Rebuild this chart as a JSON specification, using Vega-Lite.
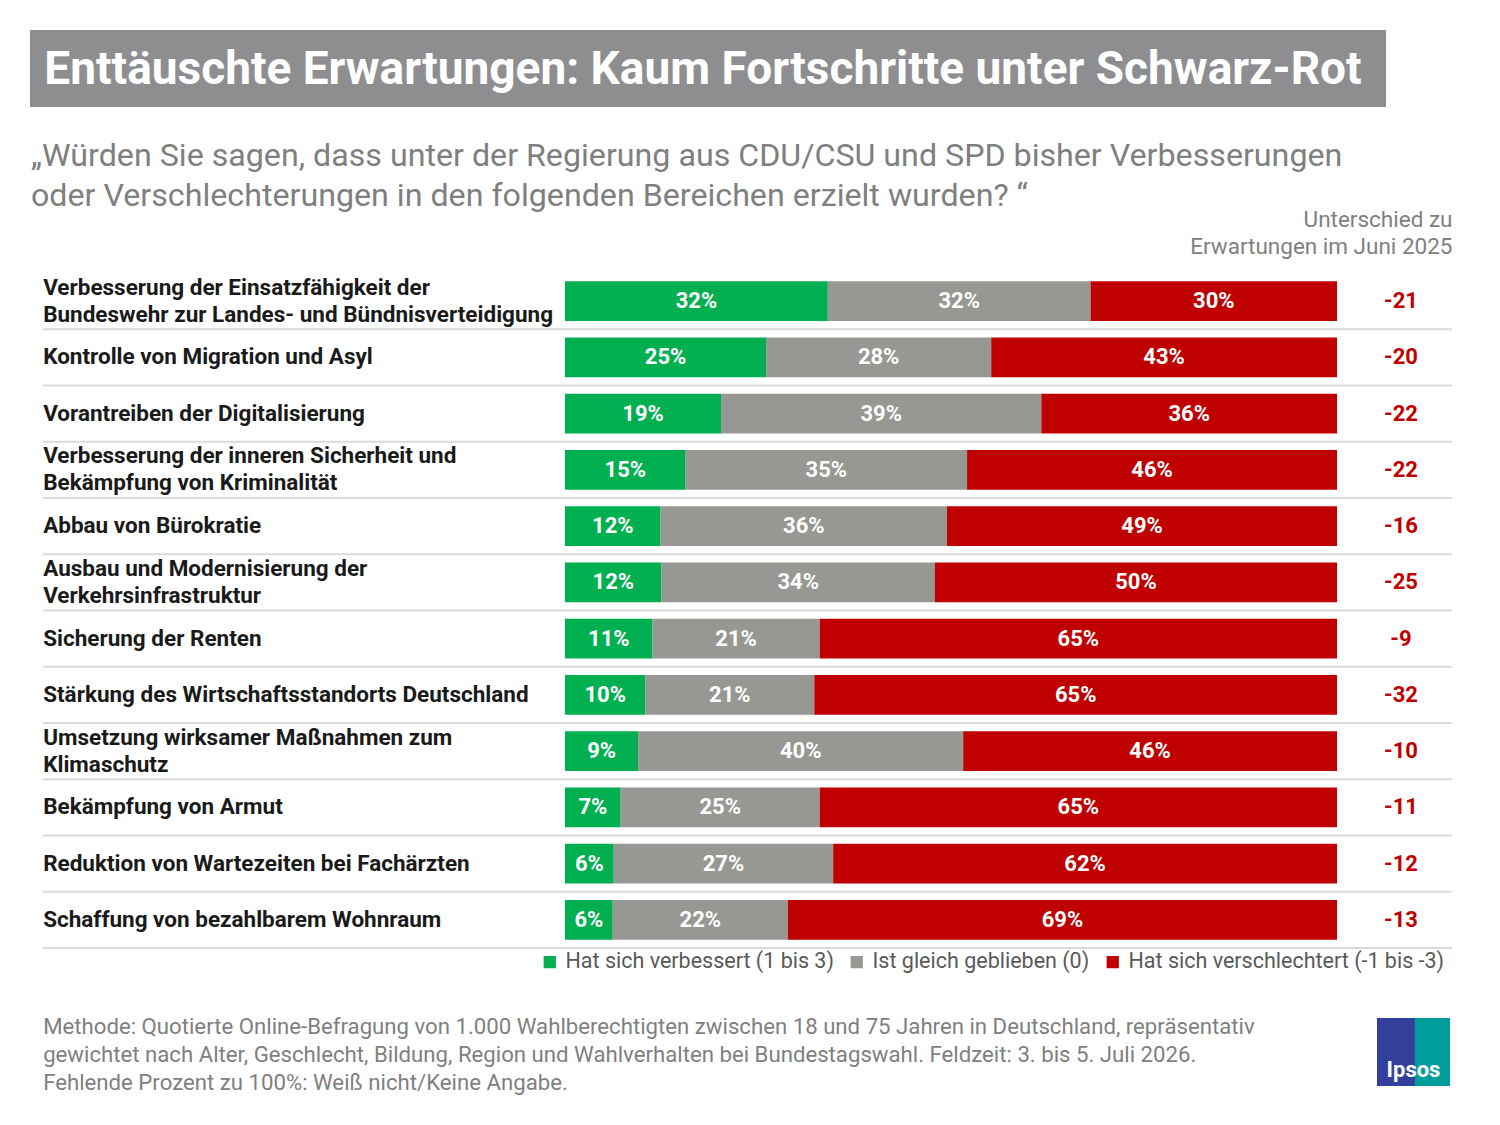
{
  "$schema": "https://vega.github.io/schema/vega-lite/v6.json",
  "background": "white",
  "padding": {"left": 30, "top": 30, "right": 0, "bottom": 0},
  "bounds": "full",
  "spacing": 32,
  "config": {
    "view": {"stroke": null},
    "font": "Roboto",
    "legend": {"layout": {"bottom": {"anchor": "end"}}}
  },
  "resolve": {"scale": {"color": "independent"}, "legend": {"color": "independent"}},
  "datasets": {
    "rows": [
      {"cat": "Verbesserung der Einsatzfähigkeit der\nBundeswehr zur Landes- und Bündnisverteidigung", "diff": -21},
      {"cat": "Kontrolle von Migration und Asyl", "diff": -20},
      {"cat": "Vorantreiben der Digitalisierung", "diff": -22},
      {"cat": "Verbesserung der inneren Sicherheit und\nBekämpfung von Kriminalität", "diff": -22},
      {"cat": "Abbau von Bürokratie", "diff": -16},
      {"cat": "Ausbau und Modernisierung der\nVerkehrsinfrastruktur", "diff": -25},
      {"cat": "Sicherung der Renten", "diff": -9},
      {"cat": "Stärkung des Wirtschaftsstandorts Deutschland", "diff": -32},
      {"cat": "Umsetzung wirksamer Maßnahmen zum\nKlimaschutz", "diff": -10},
      {"cat": "Bekämpfung von Armut", "diff": -11},
      {"cat": "Reduktion von Wartezeiten bei Fachärzten", "diff": -12},
      {"cat": "Schaffung von bezahlbarem Wohnraum", "diff": -13}
    ],
    "parts": [
      {"cat": "Verbesserung der Einsatzfähigkeit der\nBundeswehr zur Landes- und Bündnisverteidigung", "answer": "Hat sich verbessert (1 bis 3)", "k": 1, "share": 0.32},
      {"cat": "Verbesserung der Einsatzfähigkeit der\nBundeswehr zur Landes- und Bündnisverteidigung", "answer": "Ist gleich geblieben (0)", "k": 2, "share": 0.32},
      {"cat": "Verbesserung der Einsatzfähigkeit der\nBundeswehr zur Landes- und Bündnisverteidigung", "answer": "Hat sich verschlechtert (-1 bis -3)", "k": 3, "share": 0.30},
      {"cat": "Kontrolle von Migration und Asyl", "answer": "Hat sich verbessert (1 bis 3)", "k": 1, "share": 0.25},
      {"cat": "Kontrolle von Migration und Asyl", "answer": "Ist gleich geblieben (0)", "k": 2, "share": 0.28},
      {"cat": "Kontrolle von Migration und Asyl", "answer": "Hat sich verschlechtert (-1 bis -3)", "k": 3, "share": 0.43},
      {"cat": "Vorantreiben der Digitalisierung", "answer": "Hat sich verbessert (1 bis 3)", "k": 1, "share": 0.19},
      {"cat": "Vorantreiben der Digitalisierung", "answer": "Ist gleich geblieben (0)", "k": 2, "share": 0.39},
      {"cat": "Vorantreiben der Digitalisierung", "answer": "Hat sich verschlechtert (-1 bis -3)", "k": 3, "share": 0.36},
      {"cat": "Verbesserung der inneren Sicherheit und\nBekämpfung von Kriminalität", "answer": "Hat sich verbessert (1 bis 3)", "k": 1, "share": 0.15},
      {"cat": "Verbesserung der inneren Sicherheit und\nBekämpfung von Kriminalität", "answer": "Ist gleich geblieben (0)", "k": 2, "share": 0.35},
      {"cat": "Verbesserung der inneren Sicherheit und\nBekämpfung von Kriminalität", "answer": "Hat sich verschlechtert (-1 bis -3)", "k": 3, "share": 0.46},
      {"cat": "Abbau von Bürokratie", "answer": "Hat sich verbessert (1 bis 3)", "k": 1, "share": 0.12},
      {"cat": "Abbau von Bürokratie", "answer": "Ist gleich geblieben (0)", "k": 2, "share": 0.36},
      {"cat": "Abbau von Bürokratie", "answer": "Hat sich verschlechtert (-1 bis -3)", "k": 3, "share": 0.49},
      {"cat": "Ausbau und Modernisierung der\nVerkehrsinfrastruktur", "answer": "Hat sich verbessert (1 bis 3)", "k": 1, "share": 0.12},
      {"cat": "Ausbau und Modernisierung der\nVerkehrsinfrastruktur", "answer": "Ist gleich geblieben (0)", "k": 2, "share": 0.34},
      {"cat": "Ausbau und Modernisierung der\nVerkehrsinfrastruktur", "answer": "Hat sich verschlechtert (-1 bis -3)", "k": 3, "share": 0.50},
      {"cat": "Sicherung der Renten", "answer": "Hat sich verbessert (1 bis 3)", "k": 1, "share": 0.11},
      {"cat": "Sicherung der Renten", "answer": "Ist gleich geblieben (0)", "k": 2, "share": 0.21},
      {"cat": "Sicherung der Renten", "answer": "Hat sich verschlechtert (-1 bis -3)", "k": 3, "share": 0.65},
      {"cat": "Stärkung des Wirtschaftsstandorts Deutschland", "answer": "Hat sich verbessert (1 bis 3)", "k": 1, "share": 0.10},
      {"cat": "Stärkung des Wirtschaftsstandorts Deutschland", "answer": "Ist gleich geblieben (0)", "k": 2, "share": 0.21},
      {"cat": "Stärkung des Wirtschaftsstandorts Deutschland", "answer": "Hat sich verschlechtert (-1 bis -3)", "k": 3, "share": 0.65},
      {"cat": "Umsetzung wirksamer Maßnahmen zum\nKlimaschutz", "answer": "Hat sich verbessert (1 bis 3)", "k": 1, "share": 0.09},
      {"cat": "Umsetzung wirksamer Maßnahmen zum\nKlimaschutz", "answer": "Ist gleich geblieben (0)", "k": 2, "share": 0.40},
      {"cat": "Umsetzung wirksamer Maßnahmen zum\nKlimaschutz", "answer": "Hat sich verschlechtert (-1 bis -3)", "k": 3, "share": 0.46},
      {"cat": "Bekämpfung von Armut", "answer": "Hat sich verbessert (1 bis 3)", "k": 1, "share": 0.07},
      {"cat": "Bekämpfung von Armut", "answer": "Ist gleich geblieben (0)", "k": 2, "share": 0.25},
      {"cat": "Bekämpfung von Armut", "answer": "Hat sich verschlechtert (-1 bis -3)", "k": 3, "share": 0.65},
      {"cat": "Reduktion von Wartezeiten bei Fachärzten", "answer": "Hat sich verbessert (1 bis 3)", "k": 1, "share": 0.06},
      {"cat": "Reduktion von Wartezeiten bei Fachärzten", "answer": "Ist gleich geblieben (0)", "k": 2, "share": 0.27},
      {"cat": "Reduktion von Wartezeiten bei Fachärzten", "answer": "Hat sich verschlechtert (-1 bis -3)", "k": 3, "share": 0.62},
      {"cat": "Schaffung von bezahlbarem Wohnraum", "answer": "Hat sich verbessert (1 bis 3)", "k": 1, "share": 0.06},
      {"cat": "Schaffung von bezahlbarem Wohnraum", "answer": "Ist gleich geblieben (0)", "k": 2, "share": 0.22},
      {"cat": "Schaffung von bezahlbarem Wohnraum", "answer": "Hat sich verschlechtert (-1 bis -3)", "k": 3, "share": 0.69}
    ]
  },
  "vconcat": [
    {
      "width": 1356,
      "height": 77,
      "view": {"fill": "#8e8e90", "stroke": null},
      "data": {"values": [{"t": "Enttäuschte Erwartungen: Kaum Fortschritte unter Schwarz-Rot"}]},
      "mark": {"type": "text", "align": "center", "baseline": "middle", "dx": -5, "dy": 1, "font": "Roboto", "fontSize": 46, "fontWeight": "bold", "color": "white"},
      "encoding": {"text": {"field": "t"}}
    },
    {
      "width": 1422,
      "height": 675,
      "title": {
        "text": ["„Würden Sie sagen, dass unter der Regierung aus CDU/CSU und SPD bisher Verbesserungen", "oder Verschlechterungen in den folgenden Bereichen erzielt wurden? “"],
        "anchor": "start",
        "frame": "group",
        "dx": 1,
        "offset": -5,
        "font": "Roboto",
        "fontSize": 32.2,
        "fontWeight": "normal",
        "lineHeight": 40,
        "color": "#7f7f7f"
      },
      "layer": [
        {
          "data": {"name": "rows"},
          "mark": {"type": "rule", "color": "#dadada", "strokeWidth": 2},
          "encoding": {
            "y": {"field": "cat", "type": "nominal", "bandPosition": 1, "axis": null,
                  "sort": ["Verbesserung der Einsatzfähigkeit der\nBundeswehr zur Landes- und Bündnisverteidigung", "Kontrolle von Migration und Asyl", "Vorantreiben der Digitalisierung", "Verbesserung der inneren Sicherheit und\nBekämpfung von Kriminalität", "Abbau von Bürokratie", "Ausbau und Modernisierung der\nVerkehrsinfrastruktur", "Sicherung der Renten", "Stärkung des Wirtschaftsstandorts Deutschland", "Umsetzung wirksamer Maßnahmen zum\nKlimaschutz", "Bekämpfung von Armut", "Reduktion von Wartezeiten bei Fachärzten", "Schaffung von bezahlbarem Wohnraum"],
                  "scale": {"paddingInner": 0, "paddingOuter": 0}},
            "x": {"datum": -0.676},
            "x2": {"datum": 1.14896}
          }
        },
        {
          "data": {"name": "parts"},
          "mark": {"type": "bar", "height": {"band": 0.711}},
          "encoding": {
            "y": {"field": "cat", "type": "nominal", "axis": null,
                  "sort": ["Verbesserung der Einsatzfähigkeit der\nBundeswehr zur Landes- und Bündnisverteidigung", "Kontrolle von Migration und Asyl", "Vorantreiben der Digitalisierung", "Verbesserung der inneren Sicherheit und\nBekämpfung von Kriminalität", "Abbau von Bürokratie", "Ausbau und Modernisierung der\nVerkehrsinfrastruktur", "Sicherung der Renten", "Stärkung des Wirtschaftsstandorts Deutschland", "Umsetzung wirksamer Maßnahmen zum\nKlimaschutz", "Bekämpfung von Armut", "Reduktion von Wartezeiten bei Fachärzten", "Schaffung von bezahlbarem Wohnraum"]},
            "x": {
              "field": "share", "type": "quantitative", "stack": "normalize",
              "scale": {"domain": [-0.69301, 1.14896], "nice": false, "zero": false},
              "axis": {
                "orient": "top", "values": [1.14896], "title": null,
                "labelExpr": "['Unterschied zu', 'Erwartungen im Juni 2025']",
                "labelAlign": "right", "labelBaseline": "middle", "labelFlush": false, "labelLimit": 600,
                "labelPadding": 54, "labelFont": "Roboto", "labelFontSize": 22.5, "labelLineHeight": 27,
                "labelColor": "#7f7f7f", "ticks": false, "domain": false, "grid": false
              }
            },
            "order": {"field": "k"},
            "color": {
              "field": "answer", "type": "nominal",
              "scale": {
                "domain": ["Hat sich verbessert (1 bis 3)", "Ist gleich geblieben (0)", "Hat sich verschlechtert (-1 bis -3)"],
                "range": ["#00b050", "#979793", "#c00000"]
              },
              "legend": {
                "orient": "bottom", "direction": "horizontal", "title": null, "offset": -4, "padding": 7,
                "symbolType": "square", "symbolSize": 150, "symbolStrokeWidth": 0,
                "labelFont": "Roboto", "labelFontSize": 21.5, "labelColor": "#595959", "labelLimit": 600,
                "labelOffset": 5, "columnPadding": 12
              }
            }
          }
        },
        {
          "data": {"name": "parts"},
          "mark": {"type": "text", "align": "center", "baseline": "middle", "font": "Roboto", "fontSize": 22, "fontWeight": "bold", "color": "white"},
          "encoding": {
            "y": {"field": "cat", "type": "nominal", "axis": null,
                  "sort": ["Verbesserung der Einsatzfähigkeit der\nBundeswehr zur Landes- und Bündnisverteidigung", "Kontrolle von Migration und Asyl", "Vorantreiben der Digitalisierung", "Verbesserung der inneren Sicherheit und\nBekämpfung von Kriminalität", "Abbau von Bürokratie", "Ausbau und Modernisierung der\nVerkehrsinfrastruktur", "Sicherung der Renten", "Stärkung des Wirtschaftsstandorts Deutschland", "Umsetzung wirksamer Maßnahmen zum\nKlimaschutz", "Bekämpfung von Armut", "Reduktion von Wartezeiten bei Fachärzten", "Schaffung von bezahlbarem Wohnraum"]},
            "x": {"field": "share", "type": "quantitative", "stack": "normalize", "bandPosition": 0.5},
            "detail": {"field": "answer"},
            "order": {"field": "k"},
            "text": {"field": "share", "type": "quantitative", "format": ".0%"}
          }
        },
        {
          "data": {"name": "rows"},
          "transform": [{"filter": "indexof(datum.cat, '\\n') < 0"}],
          "mark": {"type": "text", "align": "left", "baseline": "middle", "font": "Roboto", "fontSize": 22.5, "fontWeight": "bold", "color": "#1a1a1a"},
          "encoding": {
            "y": {"field": "cat", "type": "nominal", "axis": null,
                  "sort": ["Verbesserung der Einsatzfähigkeit der\nBundeswehr zur Landes- und Bündnisverteidigung", "Kontrolle von Migration und Asyl", "Vorantreiben der Digitalisierung", "Verbesserung der inneren Sicherheit und\nBekämpfung von Kriminalität", "Abbau von Bürokratie", "Ausbau und Modernisierung der\nVerkehrsinfrastruktur", "Sicherung der Renten", "Stärkung des Wirtschaftsstandorts Deutschland", "Umsetzung wirksamer Maßnahmen zum\nKlimaschutz", "Bekämpfung von Armut", "Reduktion von Wartezeiten bei Fachärzten", "Schaffung von bezahlbarem Wohnraum"]},
            "x": {"datum": -0.676},
            "text": {"field": "cat"}
          }
        },
        {
          "data": {"name": "rows"},
          "transform": [{"filter": "indexof(datum.cat, '\\n') >= 0"}],
          "mark": {"type": "text", "align": "left", "baseline": "middle", "dy": -13.5, "font": "Roboto", "fontSize": 22.5, "fontWeight": "bold", "color": "#1a1a1a", "lineBreak": "\n", "lineHeight": 27},
          "encoding": {
            "y": {"field": "cat", "type": "nominal", "axis": null,
                  "sort": ["Verbesserung der Einsatzfähigkeit der\nBundeswehr zur Landes- und Bündnisverteidigung", "Kontrolle von Migration und Asyl", "Vorantreiben der Digitalisierung", "Verbesserung der inneren Sicherheit und\nBekämpfung von Kriminalität", "Abbau von Bürokratie", "Ausbau und Modernisierung der\nVerkehrsinfrastruktur", "Sicherung der Renten", "Stärkung des Wirtschaftsstandorts Deutschland", "Umsetzung wirksamer Maßnahmen zum\nKlimaschutz", "Bekämpfung von Armut", "Reduktion von Wartezeiten bei Fachärzten", "Schaffung von bezahlbarem Wohnraum"]},
            "x": {"datum": -0.676},
            "text": {"field": "cat"}
          }
        },
        {
          "data": {"name": "rows"},
          "mark": {"type": "text", "align": "center", "baseline": "middle", "font": "Roboto", "fontSize": 22, "fontWeight": "bold", "color": "#c00000"},
          "encoding": {
            "y": {"field": "cat", "type": "nominal", "axis": null,
                  "sort": ["Verbesserung der Einsatzfähigkeit der\nBundeswehr zur Landes- und Bündnisverteidigung", "Kontrolle von Migration und Asyl", "Vorantreiben der Digitalisierung", "Verbesserung der inneren Sicherheit und\nBekämpfung von Kriminalität", "Abbau von Bürokratie", "Ausbau und Modernisierung der\nVerkehrsinfrastruktur", "Sicherung der Renten", "Stärkung des Wirtschaftsstandorts Deutschland", "Umsetzung wirksamer Maßnahmen zum\nKlimaschutz", "Bekämpfung von Armut", "Reduktion von Wartezeiten bei Fachärzten", "Schaffung von bezahlbarem Wohnraum"]},
            "x": {"datum": 1.0829},
            "text": {"field": "diff", "type": "nominal"}
          }
        }
      ]
    },
    {
      "width": 1422,
      "height": 90,
      "layer": [
        {
          "data": {"values": [{"t": "Methode: Quotierte Online-Befragung von 1.000 Wahlberechtigten zwischen 18 und 75 Jahren in Deutschland, repräsentativ\ngewichtet nach Alter, Geschlecht, Bildung, Region und Wahlverhalten bei Bundestagswahl. Feldzeit: 3. bis 5. Juli 2026.\nFehlende Prozent zu 100%: Weiß nicht/Keine Angabe."}]},
          "mark": {"type": "text", "align": "left", "baseline": "middle", "font": "Roboto", "fontSize": 22.2, "color": "#7f7f7f", "lineBreak": "\n", "lineHeight": 28},
          "encoding": {
            "x": {"datum": -0.676, "scale": {"domain": [-0.69301, 1.14896], "nice": false, "zero": false}, "axis": null},
            "y": {"datum": 15, "scale": {"domain": [0, 90], "reverse": true, "nice": false}, "axis": null},
            "text": {"field": "t"}
          }
        },
        {
          "data": {"values": [{}]},
          "mark": {"type": "rect", "color": "#33409b"},
          "encoding": {"x": {"datum": 1.0518}, "x2": {"datum": 1.1010}, "y": {"datum": 6}, "y2": {"datum": 74}}
        },
        {
          "data": {"values": [{}]},
          "mark": {"type": "rect", "color": "#009d9c"},
          "encoding": {"x": {"datum": 1.1010}, "x2": {"datum": 1.1464}, "y": {"datum": 6}, "y2": {"datum": 74}}
        },
        {
          "data": {"values": [{"t": "Ipsos"}]},
          "mark": {"type": "text", "align": "center", "baseline": "middle", "font": "Roboto", "fontSize": 22, "fontWeight": "bold", "color": "white"},
          "encoding": {"x": {"datum": 1.0991}, "y": {"datum": 58}, "text": {"field": "t"}}
        }
      ]
    }
  ]
}
